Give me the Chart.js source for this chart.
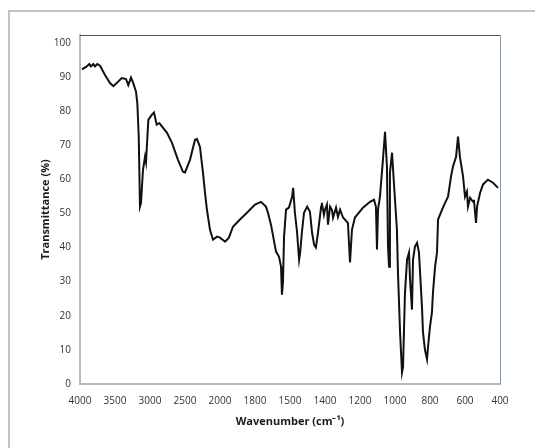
<!DOCTYPE html>
<html>
<head>
<meta charset="utf-8">
<script src="https://cdn.jsdelivr.net/npm/chart.js@4"></script>
<style>
  html, body { margin: 0; padding: 0; background: #fff; }
  #wrap { position: relative; width: 535px; height: 448px; overflow: hidden; }
  #frame {
    position: absolute; left: 8px; top: 10px; width: 560px; height: 460px;
    border: 2px solid #c4c4c4; box-sizing: border-box; pointer-events: none;
  }
  canvas { position: absolute; left: 0; top: 0; }
</style>
</head>
<body>
<div id="wrap">
  <canvas id="irChart" width="535" height="448"></canvas>
  <div id="frame"></div>
</div>
<script>
// Tick labels on the wavenumber axis (evenly spaced, as in the original sheet)
const xTicks = [4000, 3500, 3000, 2500, 2000, 1800, 1500, 1400, 1200, 1000, 800, 600, 400];

// Spectrum
const wavenumbers = [
  3971, 3904, 3867, 3843, 3810, 3786, 3753, 3714, 3643, 3571,
  3524, 3476, 3404, 3343, 3310, 3271, 3239, 3200, 3181, 3161,
  3143, 3129, 3100, 3071, 3057, 3024, 2976, 2943, 2904, 2867,
  2757, 2686, 2600, 2529, 2500, 2429, 2357, 2329, 2286, 2243,
  2214, 2186, 2143, 2100, 2043, 2000, 1971, 1949, 1926, 1886,
  1846, 1800, 1749, 1706, 1689, 1663, 1620, 1594, 1577, 1569,
  1560, 1551, 1534, 1509, 1494, 1491, 1486, 1480, 1474, 1471,
  1466, 1460, 1451, 1443, 1437, 1431, 1426, 1420, 1411, 1409,
  1403, 1400, 1389, 1383, 1371, 1360, 1354, 1337, 1326, 1314,
  1297, 1286, 1269, 1257, 1246, 1229, 1183, 1143, 1120, 1109,
  1103, 1097, 1086, 1069, 1057, 1046, 1040, 1034, 1029, 1017,
  1011, 1000, 989, 983, 971, 960, 954, 943, 931, 920,
  914, 903, 897, 886, 874, 863, 846, 840, 829, 817,
  811, 800, 789, 783, 771, 760, 754, 731, 714, 697,
  680, 669, 651, 640, 629, 611, 600, 589, 583, 571,
  554, 549, 537, 531, 514, 497, 469, 440, 411
];
const transmittance = [
  92.2, 93.1, 93.8, 93.1, 93.8, 93.1, 93.8, 93.3, 90.6, 88.2,
  87.3, 88.2, 89.7, 89.4, 87.6, 89.8, 88.2, 85.7, 82.3, 72.6,
  52.0, 53.0, 62.8, 66.6, 65.0, 77.4, 78.9, 79.6, 76.0, 76.5,
  73.6, 70.7, 65.7, 62.2, 62.0, 65.7, 71.6, 71.8, 69.5, 61.9,
  56.0, 51.0, 45.2, 42.3, 43.2, 42.9, 41.7, 42.9, 46.1, 48.2,
  50.2, 52.6, 53.4, 52.0, 50.2, 46.7, 38.8, 37.3, 34.4, 26.2,
  30.0, 43.2, 51.1, 51.7, 54.9, 57.5, 50.2, 44.7, 36.4, 38.5,
  44.4, 50.2, 52.0, 50.5, 44.4, 40.8, 40.0, 44.4, 52.0, 53.1,
  49.6, 51.1, 52.6, 46.7, 52.0, 51.0, 48.8, 51.7, 49.0, 51.1,
  48.8, 48.2, 47.2, 35.6, 45.2, 48.8, 51.7, 53.4, 54.0, 52.0,
  39.4, 51.1, 54.9, 65.7, 73.9, 63.7, 40.3, 34.4, 61.9, 67.8,
  62.8, 54.0, 45.2, 32.6, 15.1, 3.4, 5.1, 26.8, 36.5, 38.5,
  30.6, 21.8, 36.5, 40.3, 41.4, 38.5, 22.7, 15.1, 10.1, 7.2,
  11.0, 16.8, 20.9, 26.8, 34.4, 38.5, 48.2, 51.1, 53.1, 54.9,
  60.8, 63.7, 66.6, 72.5, 66.6, 60.8, 54.9, 56.4, 52.0, 54.6,
  53.4, 54.0, 47.2, 52.0, 56.0, 58.5, 59.9, 59.0, 57.5
];

// Axis whose tick labels sit at equal distances, linear between them
class SegmentScale extends Chart.LinearScale {
  buildTicks() {
    return xTicks.map((v) => ({ value: v }));
  }
  posOf(v) {
    const t = xTicks;
    for (let i = 0; i < t.length - 1; i++) {
      if (v >= t[i + 1]) return (i + (t[i] - v) / (t[i] - t[i + 1])) / (t.length - 1);
    }
    return 1;
  }
  getPixelForValue(v) {
    return this.getPixelForDecimal(this.posOf(v));
  }
  getValueForPixel(p) {
    const t = xTicks;
    const pos = this.getDecimalForPixel(p) * (t.length - 1);
    const i = Math.max(0, Math.min(t.length - 2, Math.floor(pos)));
    return t[i] - (pos - i) * (t[i] - t[i + 1]);
  }
}
SegmentScale.id = "segment";
SegmentScale.defaults = Chart.LinearScale.defaults;
Chart.register(SegmentScale);

// Top and right edges of the plot box
const plotFrame = {
  id: "plotFrame",
  afterDraw(chart) {
    const { ctx, chartArea: a } = chart;
    ctx.save();
    ctx.lineWidth = 1;
    ctx.strokeStyle = "#46566a";
    ctx.beginPath();
    ctx.moveTo(a.left, a.top + 0.5);
    ctx.lineTo(a.right, a.top + 0.5);
    ctx.stroke();
    ctx.strokeStyle = "#8797ab";
    ctx.beginPath();
    ctx.moveTo(a.right + 0.5, a.top);
    ctx.lineTo(a.right + 0.5, a.bottom);
    ctx.stroke();
    ctx.restore();
  },
};

const tickFont = { family: "'Open Sans', sans-serif", size: 10 };
const titleFont = { family: "'Open Sans', sans-serif", size: 11, weight: "bold" };

function initChart() {
  const ctx = document.getElementById("irChart").getContext("2d");

  new Chart(ctx, {
    type: "line",
    data: {
      datasets: [
        {
          label: "Transmittance",
          data: wavenumbers.map((w, i) => ({ x: w, y: transmittance[i] })),
          borderColor: "#111111",
          borderWidth: 2,
          pointRadius: 0,
          tension: 0,
          fill: false,
        },
      ],
    },
    options: {
      responsive: false,
      animation: false,
      devicePixelRatio: 1,
      layout: {
        padding: { top: 35, right: 35, left: 0, bottom: 0 },
      },
      plugins: {
        legend: { display: false },
        tooltip: { enabled: false },
      },
      scales: {
        x: {
          type: "segment",
          min: 400,
          max: 4000,
          grid: { display: false, drawTicks: false },
          border: { display: true, color: "#b9b9b9", width: 2 },
          ticks: {
            color: "#333333",
            font: tickFont,
            padding: 11,
            autoSkip: false,
            maxRotation: 0,
            callback: (v) => String(v),
          },
          title: {
            display: true,
            text: "Wavenumber (cm\u207B\u00B9)",
            color: "#1a1a1a",
            font: titleFont,
            padding: { top: 0, bottom: 20 },
          },
          afterFit: (scale) => {
            scale.height = 64;
          },
        },
        y: {
          min: 0,
          max: 102.3,
          grid: { display: false, drawTicks: false },
          border: { display: true, color: "#b9b9b9", width: 2 },
          ticks: {
            stepSize: 10,
            includeBounds: false,
            color: "#333333",
            font: tickFont,
            padding: 9,
          },
          title: {
            display: true,
            text: "Transmittance (%)",
            color: "#1a1a1a",
            font: titleFont,
            padding: { top: 39, bottom: 0 },
          },
          afterFit: (scale) => {
            scale.width = 80;
          },
        },
      },
    },
    plugins: [plotFrame],
  });
}

initChart();
</script>
</body>
</html>
